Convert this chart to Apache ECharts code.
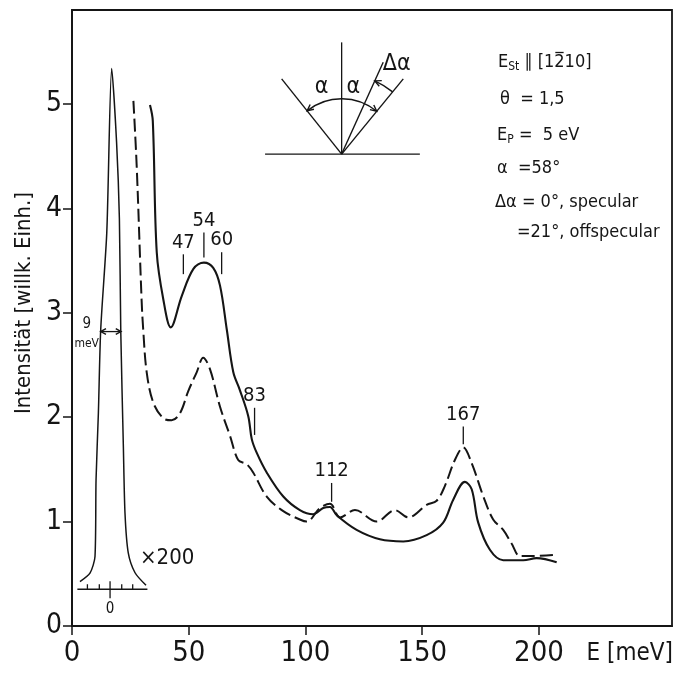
<!DOCTYPE html>
<html><head><meta charset="utf-8">
<script src="https://cdn.jsdelivr.net/npm/echarts@6/dist/echarts.min.js"></script>
<style>html,body{margin:0;padding:0;background:#fff}#c{width:676px;height:673px}</style>
</head><body><div id="c"></div>
<script>
const FONT = "'DejaVu Sans Condensed','Liberation Sans Narrow',sans-serif";
const INK = '#151515';

// axes
const xTicks = [0, 50, 100, 150, 200];
const yTicks = [0, 1, 2, 3, 4, 5];

// specular (solid) spectrum: E [meV], intensity
const specE = [33.4, 34.6, 36.3, 39.1, 42.3, 47.0, 52.0, 56.5, 60.5, 63.4, 66.3, 69.1, 71.9, 75.5, 77.0, 79.1, 83.4, 90.5, 97.6, 103.3, 107.6, 110.5, 113.4, 121.9, 131.9, 141.9, 151.9, 159.0, 163.3, 168.3, 171.2, 174.0, 179.0, 184.7, 193.3, 199.0, 207.6];
const specI = [4.99, 4.84, 3.58, 3.13, 2.86, 3.16, 3.42, 3.48, 3.43, 3.26, 2.84, 2.43, 2.26, 2.01, 1.79, 1.66, 1.47, 1.24, 1.11, 1.07, 1.13, 1.14, 1.06, 0.92, 0.83, 0.81, 0.87, 0.99, 1.21, 1.38, 1.31, 0.99, 0.73, 0.63, 0.63, 0.65, 0.61];

// off-specular (dashed) spectrum
const offE = [26.3, 27.7, 29.8, 30.5, 32.0, 34.8, 39.1, 42.7, 46.3, 49.8, 53.4, 56.2, 59.1, 63.4, 67.7, 71.2, 74.8, 77.6, 83.4, 90.5, 97.6, 100.5, 106.2, 110.5, 114.8, 121.2, 130.5, 138.3, 144.0, 151.9, 156.2, 159.7, 164.0, 167.6, 171.2, 176.2, 180.4, 184.7, 188.3, 191.9, 197.6, 206.1];
const offI = [5.03, 4.41, 3.13, 2.84, 2.43, 2.14, 1.99, 1.97, 2.04, 2.25, 2.43, 2.57, 2.46, 2.10, 1.82, 1.59, 1.55, 1.47, 1.24, 1.10, 1.02, 1.00, 1.13, 1.17, 1.04, 1.11, 1.00, 1.11, 1.04, 1.16, 1.20, 1.34, 1.59, 1.71, 1.56, 1.24, 1.02, 0.92, 0.79, 0.67, 0.67, 0.68];

// elastic peak (x200 inset), drawn in main-axis units
const elasticE = [3.4, 7.7, 9.85, 10.3, 11.3, 12.3, 14.9, 17.0, 19.1, 20.3, 20.9, 22.0, 22.7, 24.1, 27.0, 31.7];
const elasticI = [0.425, 0.506, 0.665, 1.40, 2.04, 2.84, 3.77, 5.34, 4.63, 3.90, 2.81, 1.72, 1.08, 0.70, 0.51, 0.39];

// inset axis
const insetAxisE = [2.3, 32.3];
const insetAxisI = [0.352];
const insetTickE = [6.6, 11.7, 21.3, 26.0];
const insetZeroE = [16.3];
const insetLabel = ['0'];
const fwhmE = [12.3, 21.0];
const fwhmI = [2.82];
const fwhmLabel = ['9', 'meV'];
const scaleLabel = ['×200'];

// peak annotations
const peakLabels = ['47', '54', '60', '83', '112', '167'];
const peakE = [47.7, 56.5, 64.1, 78.2, 111.2, 167.6];
const peakTickTop = [3.56, 3.77, 3.58, 2.09, 1.37, 1.91];
const peakTickBottom = [3.37, 3.53, 3.37, 1.83, 1.19, 1.74];

// scattering geometry sketch (in axis units)
const apex = [115.5, 4.52];
const surfaceE = [82.7, 149.0];
const normalTop = [115.5, 5.59];
const incidentEnd = [89.8, 5.24];
const specularEnd = [141.9, 5.24];
const offspecEnd = [133.3, 5.40];
const arcAlphaTop = [115.5, 5.05];
const arcDeltaTop = [115.5, 5.29];
const sketchLabels = ['α', 'α', 'Δα'];
const sketchLabelPos = [[106.9, 5.16], [120.5, 5.16], [139.1, 5.38]];

const toPairs = (xs, ys) => xs.map((x, i) => [x, ys[i]]);

function arrowHead(tip, dir, len, spread) {
  const a = Math.atan2(dir[1], dir[0]);
  const p1 = [tip[0] - len * Math.cos(a - spread), tip[1] - len * Math.sin(a - spread)];
  const p2 = [tip[0] - len * Math.cos(a + spread), tip[1] - len * Math.sin(a + spread)];
  return { type: 'polyline', shape: { points: [p1, tip, p2] }, style: { stroke: INK, lineWidth: 1.4, fill: 'none' } };
}
function seg(a, b, w) {
  return { type: 'line', shape: { x1: a[0], y1: a[1], x2: b[0], y2: b[1] }, style: { stroke: INK, lineWidth: w || 1.4 } };
}
function txt(p, s, size, align, va) {
  return { type: 'text', x: p[0], y: p[1], style: { text: s, fill: INK, font: size + 'px ' + FONT, align: align || 'center', verticalAlign: va || 'middle' } };
}

function renderDecor(params, api) {
  const c = p => api.coord(p);
  const kids = [];
  // inset axis
  const ia0 = c([insetAxisE[0], insetAxisI[0]]), ia1 = c([insetAxisE[1], insetAxisI[0]]);
  kids.push(seg(ia0, ia1, 1.4));
  insetTickE.forEach(e => { const p = c([e, insetAxisI[0]]); kids.push(seg(p, [p[0], p[1] - 5], 1.3)); });
  const z = c([insetZeroE[0], insetAxisI[0]]);
  kids.push(seg([z[0], z[1] - 8], [z[0], z[1] + 9], 1.3));
  kids.push(txt([z[0], z[1] + 20], insetLabel[0], 15));
  // FWHM arrow
  const f0 = c([fwhmE[0], fwhmI[0]]), f1 = c([fwhmE[1], fwhmI[0]]);
  kids.push(seg(f0, f1, 1.3));
  kids.push(arrowHead(f0, [-1, 0], 6, 0.5));
  kids.push(arrowHead(f1, [1, 0], 6, 0.5));
  kids.push(txt([f0[0] - 14, f0[1] - 7], fwhmLabel[0], 15));
  kids.push(txt([f0[0] - 14, f0[1] + 12], fwhmLabel[1], 12));
  // x200 label
  const sl = c([elasticE[elasticE.length - 1], elasticI[elasticI.length - 1]]);
  kids.push(txt([sl[0] - 6, sl[1] - 27], scaleLabel[0], 22, 'left'));
  // peak annotations
  peakE.forEach((e, i) => {
    const t = c([e, peakTickTop[i]]), b = c([e, peakTickBottom[i]]);
    kids.push(seg(t, b, 1.3));
    kids.push(txt([t[0], t[1] - 2], peakLabels[i], 20, 'center', 'bottom'));
  });
  // sketch
  const A = c(apex);
  kids.push(seg(c([surfaceE[0], apex[1]]), c([surfaceE[1], apex[1]]), 1.4));
  kids.push(seg(A, c(normalTop), 1.3));
  const I = c(incidentEnd), S = c(specularEnd), O = c(offspecEnd);
  kids.push(seg(A, I, 1.4));
  kids.push(seg(A, S, 1.4));
  kids.push(seg(A, O, 1.4));
  const ang = p => Math.atan2(p[1] - A[1], p[0] - A[0]);
  const aI = ang(I), aS = ang(S), aO = ang(O);
  const rA = A[1] - c(arcAlphaTop)[1];
  const rD = A[1] - c(arcDeltaTop)[1];
  kids.push({ type: 'arc', shape: { cx: A[0], cy: A[1], r: rA, startAngle: aI, endAngle: aS, clockwise: true }, style: { stroke: INK, lineWidth: 1.4, fill: 'none' } });
  const pt = (r, a) => [A[0] + r * Math.cos(a), A[1] + r * Math.sin(a)];
  kids.push(arrowHead(pt(rA, aI), [Math.sin(aI), -Math.cos(aI)], 7, 0.45));
  kids.push(arrowHead(pt(rA, aS), [-Math.sin(aS), Math.cos(aS)], 7, 0.45));
  kids.push({ type: 'arc', shape: { cx: A[0], cy: A[1], r: rD, startAngle: aO, endAngle: aS, clockwise: true }, style: { stroke: INK, lineWidth: 1.4, fill: 'none' } });
  kids.push(arrowHead(pt(rD, aO), [Math.sin(aO), -Math.cos(aO)], 7, 0.45));
  sketchLabels.forEach((s, i) => kids.push(txt(c(sketchLabelPos[i]), s, 23)));
  return { type: 'group', children: kids };
}

// info block
const INFO_SIZE = 18, SUB_SIZE = 12;
const infoLines = [
  { x: 498, y: 62, text: '{t|E}{s|St}{t| ∥ [1210]}' },
  { x: 500, y: 99, text: '{t|θ  = 1,5}' },
  { x: 497, y: 135, text: '{t|E}{s|P}{t| =  5 eV}' },
  { x: 497, y: 168, text: '{t|α  =58°}' },
  { x: 495, y: 202, text: '{t|Δα = 0°, specular}' },
  { x: 517, y: 232, text: '{t|=21°, offspecular}' }
];
const richStyles = {
  t: { fontFamily: FONT, fontSize: INFO_SIZE, color: INK },
  s: { fontFamily: FONT, fontSize: SUB_SIZE, color: INK, verticalAlign: 'bottom', padding: [9, 0, 0, 0] }
};
// overbar above the "2" of [1210]
const mctx = document.createElement('canvas').getContext('2d');
function tw(s, size) { mctx.font = size + 'px ' + FONT; return mctx.measureText(s).width; }
const barX0 = infoLines[0].x + tw('E', INFO_SIZE) + tw('St', SUB_SIZE) + tw(' ∥ [1', INFO_SIZE);
const barW = tw('2', INFO_SIZE);

const chart = echarts.init(document.getElementById('c'), null, { renderer: 'canvas' });
chart.setOption({
  animation: false,
  backgroundColor: '#fff',
  grid: { left: 72, right: 4, top: 10, bottom: 47, show: true, borderColor: INK, borderWidth: 1.8, outerBoundsMode: 'none' },
  xAxis: {
    type: 'value', min: 0, max: 257,
    axisLine: { show: true, onZero: false, lineStyle: { color: INK, width: 1.8 } },
    axisTick: { show: true, length: 9, customValues: xTicks, lineStyle: { color: INK, width: 1.5 } },
    axisLabel: { customValues: xTicks, margin: 13, color: INK, fontFamily: FONT, fontSize: 29 },
    splitLine: { show: false }
  },
  yAxis: {
    type: 'value', min: 0, max: 5.9,
    axisLine: { show: true, lineStyle: { color: INK, width: 1.8 } },
    axisTick: { show: true, length: 9, customValues: yTicks, lineStyle: { color: INK, width: 1.5 } },
    axisLabel: { customValues: yTicks, margin: 10, color: INK, fontFamily: FONT, fontSize: 28 },
    splitLine: { show: false }
  },
  graphic: [
    { type: 'text', x: 24, y: 303, rotation: Math.PI / 2, style: { text: 'Intensität [willk. Einh.]', font: '22px ' + FONT, fill: INK, align: 'center', verticalAlign: 'middle' } },
    { type: 'text', x: 673, y: 654, style: { text: 'E [meV]', font: '24px ' + FONT, fill: INK, align: 'right', verticalAlign: 'middle' } },
    { type: 'line', shape: { x1: barX0 + 1, y1: infoLines[0].y - 9.5, x2: barX0 + barW - 1, y2: infoLines[0].y - 9.5 }, style: { stroke: INK, lineWidth: 1.3 } }
  ].concat(infoLines.map(l => ({ type: 'text', x: l.x, y: l.y, style: { text: l.text, rich: richStyles, fill: INK, align: 'left', verticalAlign: 'middle' } }))),
  series: [
    { type: 'line', name: 'specular', data: toPairs(specE, specI), showSymbol: false, smooth: 0.35, lineStyle: { color: INK, width: 2.1 }, z: 3 },
    { type: 'line', name: 'offspecular', data: toPairs(offE, offI), showSymbol: false, smooth: 0.35, lineStyle: { color: INK, width: 2.0, type: [13, 5] }, z: 3 },
    { type: 'line', name: 'elastic x200', data: toPairs(elasticE, elasticI), showSymbol: false, smooth: 0.25, lineStyle: { color: INK, width: 1.5 }, z: 3 },
    { type: 'custom', name: 'decor', coordinateSystem: 'cartesian2d', data: [[0, 0]], renderItem: renderDecor, clip: false, silent: true, z: 4 }
  ]
});
</script></body></html>
